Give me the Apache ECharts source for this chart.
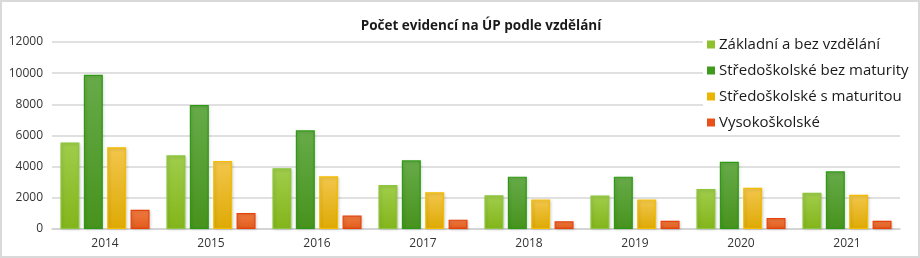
<!DOCTYPE html>
<html><head><meta charset="utf-8">
<script src="https://cdn.jsdelivr.net/npm/echarts@6/dist/echarts.min.js"></script>
<style>
html,body{margin:0;padding:0;background:#fff;}
#c{width:916px;height:254px;border:2px solid #d9d9d9;}
</style></head><body>
<div id="c"></div>
<script>
const title = 'Počet evidencí na ÚP podle vzdělání';
const categories = ['2014','2015','2016','2017','2018','2019','2020','2021'];
const seriesNames = ['Základní a bez vzdělání','Středoškolské bez maturity','Středoškolské s maturitou','Vysokoškolské'];
const zakladni = [5550, 4730, 3900, 2820, 2160, 2150, 2570, 2330];
const bezMaturity = [9900, 7950, 6330, 4410, 3360, 3360, 4320, 3700];
const sMaturitou = [5250, 4370, 3380, 2360, 1900, 1900, 2650, 2200];
const vysokoskolske = [1240, 1030, 860, 600, 490, 530, 700, 530];
const yTicks = [0, 2000, 4000, 6000, 8000, 10000, 12000];

const styles = [
  {top:'#a0cd4b', bottom:'#83b51a', border:'#8cc63c', icon:'#8dc22d'},
  {top:'#67ab49', bottom:'#47931d', border:'#2c9a12', icon:'#3f9a1e'},
  {top:'#f2c64c', bottom:'#deaa04', border:'#f5bd00', icon:'#ebb400'},
  {top:'#ef7c40', bottom:'#e25b1d', border:'#e8420a', icon:'#e8521a'}
];
const values = [zakladni, bezMaturity, sMaturitou, vysokoskolske];
const font = 'Open Sans';

const chart = echarts.init(document.getElementById('c'));
chart.setOption({
  animation:false,
  title:{text:title,left:474,top:12,textAlign:'center',
    textStyle:{fontFamily:font,fontSize:13.5,fontWeight:'bold',color:'#1a1a1a'}},
  legend:{orient:'vertical',left:701,top:33,itemWidth:8,itemHeight:8,itemGap:11,
    backgroundColor:'#fff',padding:[2,4,4,4],
    textStyle:{fontFamily:font,fontSize:15,color:'#1a1a1a',padding:[0,0,0,-1]},
    data:seriesNames.map((n,i)=>({name:n,icon:'rect',itemStyle:{color:styles[i].icon,borderWidth:0}}))},
  grid:{left:50,right:18,top:40,bottom:27},
  xAxis:{type:'category',data:categories,
    axisLine:{lineStyle:{color:'#d0d0d0',width:1.5}},axisTick:{show:false},
    axisLabel:{fontFamily:font,fontSize:12,color:'#333',margin:9}},
  yAxis:{type:'value',min:0,max:12000,interval:2000,
    axisLine:{show:false},axisTick:{show:false},
    splitLine:{lineStyle:{color:'#d6d6d6',width:1.5}},
    axisLabel:{fontFamily:font,fontSize:12,color:'#333',margin:9,
      formatter:v=>yTicks.includes(v)?String(v):''}},
  series:seriesNames.map((n,i)=>({
    name:n,type:'bar',data:values[i],barWidth:19,barGap:'23%',z:1,
    itemStyle:{
      color:new echarts.graphic.LinearGradient(0,0,0,1,[{offset:0,color:styles[i].top},{offset:1,color:styles[i].bottom}]),
      borderColor:styles[i].border,borderWidth:1.2,
      shadowColor:'rgba(0,0,0,0.15)',shadowBlur:3,shadowOffsetX:1,shadowOffsetY:1}
  }))
});
</script></body></html>
